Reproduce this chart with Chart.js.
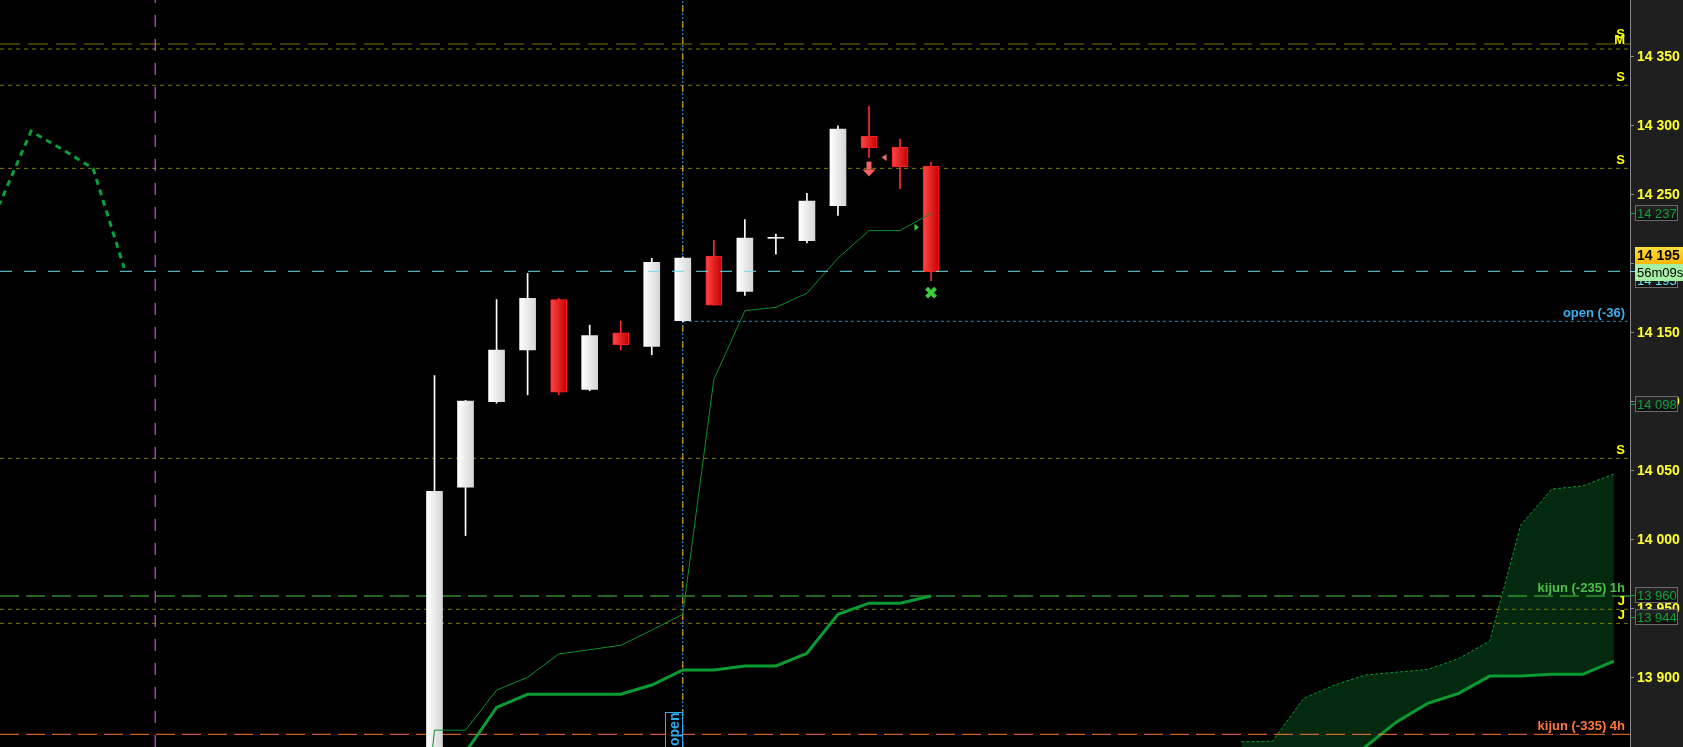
<!DOCTYPE html>
<html>
<head>
<meta charset="utf-8">
<script src="https://cdn.jsdelivr.net/npm/chart.js@4.4.1/dist/chart.umd.min.js"></script>
<style>
html, body { margin: 0; padding: 0; background: #000; overflow: hidden; }
</style>
</head>
<body>
<canvas id="graph" width="1683" height="747"></canvas>
<script>
// candles (slot 0 = first candle on screen)
var slots  = [0, 1, 2, 3, 4, 5, 6, 7, 8, 9, 10, 11, 12, 13, 14, 15, 16];
var opens  = [13800, 14038, 14100, 14137.5, 14174, 14109, 14150, 14140, 14158.7, 14205.6, 14180, 14218.4, 14216.7, 14242, 14292.3, 14284.6, 14270.8];
var highs  = [14119, 14101, 14174, 14193, 14175, 14155.5, 14158.5, 14204, 14205, 14217, 14232, 14221.5, 14251, 14300, 14314.3, 14290.4, 14273.7];
var lows   = [13790, 14003, 14099, 14105, 14105, 14108, 14137.5, 14134, 14158, 14170, 14177, 14207, 14215, 14235, 14277, 14254.3, 14187.5];
var closes = [14035, 14100.5, 14137.5, 14175, 14107, 14148, 14141.3, 14201, 14204, 14170, 14218.6, 14218.4, 14245.4, 14297.6, 14284, 14270.3, 14194.2];

// ichimoku lines
var tenkanX = [-1, 0, 1, 2, 3, 4, 5, 6, 7, 8, 9, 10, 11, 12, 13, 14, 15, 16];
var tenkan  = [13650, 13862, 13862, 13891, 13900.3, 13917.2, 13920.3, 13923.5, 13934.5, 13946, 14116, 14166, 14168.4, 14178.6, 14204, 14224, 14224, 14236.5];
var kijunX  = [0, 1, 2, 3, 4, 5, 6, 7, 8, 9, 10, 11, 12, 13, 14, 15, 16];
var kijun   = [13790, 13846, 13878.5, 13888, 13888, 13888, 13888, 13894.7, 13905.6, 13905.6, 13908.5, 13908.5, 13917.7, 13946, 13954, 13954, 13959.2];
var chikouX = [-15, -14, -13, -12, -11, -10];
var chikou  = [14218, 14244, 14296, 14283, 14269, 14197];
var cloudX  = [26, 27, 28, 29, 30, 31, 32, 33, 34, 35, 36, 37, 38];
var spanA   = [13853.6, 13854, 13885, 13894.7, 13902, 13904, 13906, 13913.8, 13926.6, 14010.6, 14036.7, 14039, 14047.6];
var spanB   = [13770, 13790, 13809, 13829, 13850, 13868, 13881.4, 13888.7, 13901.2, 13901.2, 13902.5, 13902.5, 13912];

// horizontal levels
var sLevels = [14355.6, 14329.3, 14269.1, 14059];
var mLevels = [14359.2];
var jLevels = [13949.6, 13939.4];
var lastPrice = 14194.5;
var kijun1h = 13959.2;
var kijun4h = 13859;
var openLevel = 14158.3;
var openSlot = 8;
var sessionSlot = -9;

// markers
var arrowDown = [{x: 14, y: 14274}];
var triLeft   = [{x: 14.5, y: 14277}];
var triRight  = [{x: 15.53, y: 14226.4}];
var crossMark = [{x: 16, y: 14179}];

// price tags on the axis
var tagTenkan = 14237;
var tagSpan   = 14098;
var tagKijun  = 13960;
var tagSpanB  = 13944;
var timerText = '56m09s';

var X_MIN = -14.0, X_MAX = 38.52;
var Y_MIN = 13849.8, Y_MAX = 14391.1;

var FONT = "'Liberation Sans', Arial, sans-serif";

function fmt(v) {
    v = Math.round(v);
    return Math.floor(v / 1000) + ' ' + String(v % 1000).padStart(3, '0');
}

function pts(xs, ys) {
    var out = [];
    for (var i = 0; i < xs.length; i++) out.push({x: xs[i], y: ys[i]});
    return out;
}

function hLine(level, from) {
    return [{x: from === undefined ? X_MIN : from, y: level}, {x: X_MAX, y: level}];
}

function vLine(slot) {
    return [{x: slot, y: Y_MIN}, {x: slot, y: Y_MAX}];
}

function isUp(i) { return closes[i] >= opens[i]; }

function bodyFill(c) {
    var ch = c.chart;
    var i = c.dataIndex;
    var solid = (i !== undefined && !isUp(i)) ? '#e01818' : '#eeeeee';
    if (c.type !== 'data' || !ch.chartArea || !ch.scales.x) return solid;
    var xc = ch.scales.x.getPixelForValue(slots[i]);
    if (!isFinite(xc)) return solid;
    var g = ch.ctx.createLinearGradient(xc - 8, 0, xc + 8, 0);
    if (isUp(i)) { g.addColorStop(0, '#ffffff'); g.addColorStop(1, '#d6d6d6'); }
    else { g.addColorStop(0, '#ff4646'); g.addColorStop(1, '#c40000'); }
    return g;
}

var datasets = [];

// cloud
datasets.push({type: 'line', data: pts(cloudX, spanA), borderColor: '#0a9b33', borderWidth: 1, borderDash: [3, 2],
    pointRadius: 0, fill: '+1', backgroundColor: '#03290f', order: 20});
datasets.push({type: 'line', data: pts(cloudX, spanB), borderColor: '#0a9b33', borderWidth: 3,
    pointRadius: 0, fill: false, order: 19});

// levels
sLevels.forEach(function (l) {
    datasets.push({type: 'line', data: hLine(l), borderColor: '#7d7d00', borderWidth: 1, borderDash: [4, 4], pointRadius: 0, order: 15});
});
mLevels.forEach(function (l) {
    datasets.push({type: 'line', data: hLine(l), borderColor: '#7d7400', borderWidth: 1, borderDash: [20, 8], pointRadius: 0, order: 15});
});
jLevels.forEach(function (l) {
    datasets.push({type: 'line', data: hLine(l), borderColor: '#7d7d00', borderWidth: 1, borderDash: [4, 4], pointRadius: 0, order: 15});
});
datasets.push({type: 'line', data: hLine(kijun1h), borderColor: '#44cc44', borderWidth: 1, borderDash: [19, 7], pointRadius: 0, order: 15});
datasets.push({type: 'line', data: hLine(kijun4h), borderColor: '#ff7733', borderWidth: 1, borderDash: [19, 7], pointRadius: 0, order: 15});
datasets.push({type: 'line', data: hLine(openLevel, openSlot), borderColor: '#2a8cc0', borderWidth: 1, borderDash: [3, 3], pointRadius: 0, order: 15});

// vertical markers
datasets.push({type: 'line', data: vLine(sessionSlot), borderColor: '#ff55ff', borderWidth: 1, borderDash: [12, 12], pointRadius: 0, order: 14});
datasets.push({type: 'line', data: vLine(openSlot), borderColor: '#33aaff', borderWidth: 1, borderDash: [2, 2], pointRadius: 0, order: 14});
datasets.push({type: 'line', data: vLine(openSlot), borderColor: '#ffaa00', borderWidth: 1, borderDash: [6, 10], borderDashOffset: 1, pointRadius: 0, order: 13});

// candles
datasets.push({type: 'bar', data: slots.map(function (s, i) { return {x: s, y: [lows[i], highs[i]]}; }),
    backgroundColor: slots.map(function (s, i) { return isUp(i) ? '#ffffff' : '#ff2a2a'; }),
    barThickness: 1, grouped: false, order: 6});
datasets.push({type: 'bar', data: slots.map(function (s, i) { return {x: s, y: [opens[i], closes[i]]}; }),
    backgroundColor: bodyFill,
    borderColor: slots.map(function (s, i) { return isUp(i) ? 'rgba(0,0,0,0)' : '#ff2020'; }),
    borderWidth: slots.map(function (s, i) { return isUp(i) ? 0 : 1; }),
    borderSkipped: false, minBarLength: 1, barThickness: 16, grouped: false, order: 5});

// ichimoku lines
datasets.push({type: 'line', data: pts(tenkanX, tenkan), borderColor: '#0b8f2e', borderWidth: 1, pointRadius: 0, order: 3});
datasets.push({type: 'line', data: pts(kijunX, kijun), borderColor: '#0a9b33', borderWidth: 3, pointRadius: 0, order: 3});
datasets.push({type: 'line', data: pts(chikouX, chikou), borderColor: '#0aa03c', borderWidth: 3, borderDash: [6, 5], pointRadius: 0, order: 3});

// last price
datasets.push({type: 'line', data: hLine(lastPrice), borderColor: '#66dfee', borderWidth: 1, borderDash: [12, 12], pointRadius: 0, order: 1});

var backdrop = {
    id: 'backdrop',
    beforeDraw: function (chart) {
        var c = chart.ctx, a = chart.chartArea;
        c.save();
        c.fillStyle = '#000';
        c.fillRect(0, 0, chart.width, chart.height);
        c.fillStyle = '#1f1f1f';
        c.fillRect(a.right, 0, chart.width - a.right, chart.height);
        c.restore();
    }
};

var texts = {
    id: 'texts',
    afterDatasetsDraw: function (chart) {
        var c = chart.ctx, a = chart.chartArea, xs = chart.scales.x, ys = chart.scales.y;
        c.save();
        c.beginPath();
        c.rect(a.left, a.top, a.right - a.left, a.bottom - a.top);
        c.clip();
        c.font = 'bold 13px ' + FONT;
        c.textAlign = 'right';
        c.textBaseline = 'alphabetic';
        var rx = a.right - 5;
        c.fillStyle = '#ffff00';
        sLevels.forEach(function (l, k) {
            c.fillText('S', rx, ys.getPixelForValue(l) - (k === 0 ? 11 : 4));
        });
        mLevels.forEach(function (l) { c.fillText('M', rx, ys.getPixelForValue(l)); });
        jLevels.forEach(function (l) { c.fillText('J', rx, ys.getPixelForValue(l) - 4); });
        c.fillStyle = '#4cc24c';
        c.fillText('kijun (-235) 1h', rx, ys.getPixelForValue(kijun1h) - 4);
        c.fillStyle = '#ff7a3a';
        c.fillText('kijun (-335) 4h', rx, ys.getPixelForValue(kijun4h) - 4);
        c.fillStyle = '#3ab0f0';
        c.fillText('open (-36)', rx, ys.getPixelForValue(openLevel) - 4);

        // "open" tag at the bottom of the session line
        var ox = Math.round(xs.getPixelForValue(openSlot));
        c.fillStyle = '#000';
        c.fillRect(ox - 18, a.bottom - 35, 18, 40);
        c.strokeStyle = '#33aaee';
        c.lineWidth = 1;
        c.strokeRect(ox - 17.5, a.bottom - 34.5, 17, 40);
        c.translate(ox - 4, a.bottom - 1);
        c.rotate(-Math.PI / 2);
        c.textAlign = 'left';
        c.fillStyle = '#33aaee';
        c.font = 'bold 14px ' + FONT;
        c.fillText('open', 0, 0);
        c.setTransform(1, 0, 0, 1, 0, 0);

        // markers
        arrowDown.forEach(function (p) {
            var x = xs.getPixelForValue(p.x), y = ys.getPixelForValue(p.y);
            c.fillStyle = '#f26262';
            c.fillRect(x - 2.5, y, 5, 8);
            c.beginPath();
            c.moveTo(x - 6.5, y + 8); c.lineTo(x + 6.5, y + 8); c.lineTo(x, y + 15); c.closePath();
            c.fill();
        });
        triLeft.forEach(function (p) {
            var x = xs.getPixelForValue(p.x), y = ys.getPixelForValue(p.y);
            c.fillStyle = '#f06a6a';
            c.beginPath();
            c.moveTo(x - 3, y); c.lineTo(x + 2, y - 3.5); c.lineTo(x + 2, y + 3.5); c.closePath();
            c.fill();
        });
        triRight.forEach(function (p) {
            var x = xs.getPixelForValue(p.x), y = ys.getPixelForValue(p.y);
            c.fillStyle = '#33cc33';
            c.beginPath();
            c.moveTo(x + 2.5, y); c.lineTo(x - 2, y - 3.5); c.lineTo(x - 2, y + 3.5); c.closePath();
            c.fill();
        });
        crossMark.forEach(function (p) {
            var x = xs.getPixelForValue(p.x), y = ys.getPixelForValue(p.y);
            c.strokeStyle = '#3ccc3c';
            c.lineWidth = 4;
            c.beginPath();
            c.moveTo(x - 4.5, y - 4.5); c.lineTo(x + 4.5, y + 4.5);
            c.moveTo(x + 4.5, y - 4.5); c.lineTo(x - 4.5, y + 4.5);
            c.stroke();
        });
        c.restore();
    }
};

function tag(c, x, top, w, h, bg, border, color, font, text) {
    c.fillStyle = bg;
    c.fillRect(x, top, w, h);
    if (border) {
        c.strokeStyle = border;
        c.lineWidth = 1;
        c.strokeRect(x + 0.5, top + 0.5, w - 1, h - 1);
    }
    c.fillStyle = color;
    c.font = font;
    c.textAlign = 'left';
    c.textBaseline = 'middle';
    c.fillText(text, x + 2, top + h / 2 + 1);
}

var axisTags = {
    id: 'axisTags',
    afterDraw: function (chart) {
        var c = chart.ctx, a = chart.chartArea, ys = chart.scales.y;
        var x = a.right + 5;
        c.save();
        function darkTag(v, label, color, dy) {
            var yv = Math.round(ys.getPixelForValue(v));
            var y = yv + (dy || 0);
            var g = c.createLinearGradient(0, y - 8, 0, y + 8);
            g.addColorStop(0, '#262626'); g.addColorStop(1, '#0c0c0c');
            c.strokeStyle = color; c.lineWidth = 1;
            c.beginPath(); c.moveTo(a.right, yv + 0.5); c.lineTo(x, yv + 0.5); c.stroke();
            tag(c, x, y - 8, 43, 16, g, '#6a6a6a', color, '13px ' + FONT, label);
        }
        darkTag(tagTenkan, fmt(tagTenkan), '#13a03a');
        darkTag(tagSpan, fmt(tagSpan), '#13a03a');
        darkTag(tagKijun, fmt(tagKijun), '#13a03a');
        darkTag(tagSpanB, fmt(tagSpanB), '#13a03a');
        darkTag(lastPrice, fmt(lastPrice), '#66dfee', 9);

        var py = ys.getPixelForValue(lastPrice);
        tag(c, x, Math.round(py - 7), 48, 17, '#a6f0a6', null, '#000', '13px ' + FONT, timerText);
        var gy = c.createLinearGradient(0, py - 25, 0, py - 8);
        gy.addColorStop(0, '#ffe040'); gy.addColorStop(1, '#ffb800');
        tag(c, x, Math.round(py - 24.5), 48, 17, gy, null, '#000', 'bold 14px ' + FONT, fmt(lastPrice));
        c.restore();
    }
};

new Chart(document.getElementById('graph'), {
    type: 'bar',
    data: {datasets: datasets},
    options: {
        responsive: false,
        animation: false,
        devicePixelRatio: 1,
        layout: {padding: 0},
        plugins: {legend: {display: false}, tooltip: {enabled: false}},
        scales: {
            x: {type: 'linear', min: X_MIN, max: X_MAX, offset: false, display: false},
            y: {
                type: 'linear', position: 'right', min: Y_MIN, max: Y_MAX,
                afterFit: function (s) { s.width = 53; s.paddingTop = 0; s.paddingBottom = 0; },
                afterBuildTicks: function (s) {
                    s.ticks = s.ticks.filter(function (t) { return t.value > Y_MIN + 10 && t.value < Y_MAX - 10; });
                },
                ticks: {stepSize: 50, includeBounds: false, color: '#ffff33', padding: 3,
                    font: {family: FONT, size: 14, weight: 'bold'}, callback: fmt},
                grid: {drawOnChartArea: false, color: '#8a8a8a', tickLength: 4},
                border: {color: '#8a8a8a'}
            }
        }
    },
    plugins: [backdrop, texts, axisTags]
});
</script>
</body>
</html>
